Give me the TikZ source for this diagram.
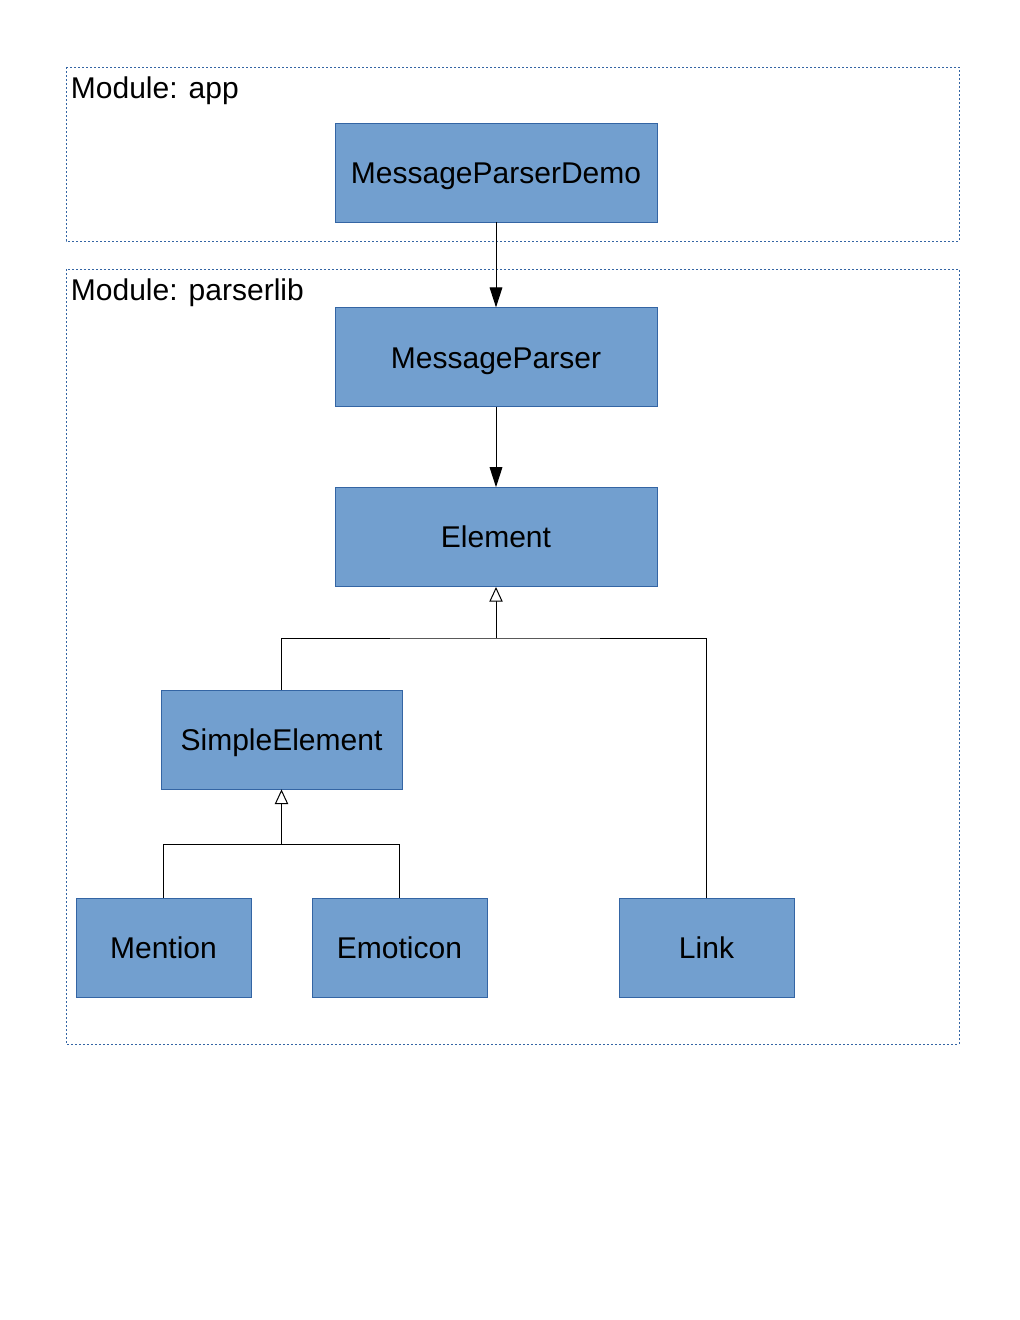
\documentclass[tikz,border=0pt]{standalone}
\usepackage{fontspec}
\setmainfont{Liberation Sans}
\usetikzlibrary{arrows.meta,positioning}
\definecolor{umlfill}{HTML}{729FCF}
\definecolor{umlline}{HTML}{3465A4}

\begin{document}
\begin{tikzpicture}[
  x=0.75pt, y=-0.75pt,
  font=\fontsize{22.5}{27}\selectfont,
  cls/.style={draw=umlline, fill=umlfill, minimum height=74.25pt,
              inner sep=0pt, line width=0.6pt, text height=16.1pt, text depth=0pt},
  wide/.style={cls, minimum width=241.5pt},
  leaf/.style={cls, minimum width=131.25pt},
  module/.style={draw=umlline, dash pattern=on 1.5pt off 1.5pt, line width=0.6pt},
  modlabel/.style={anchor=north west, inner xsep=3.5pt, inner ysep=7pt},
  uses/.style={-{Triangle[length=15pt, width=9.5pt]}, line width=0.75pt},
  extends/.style={-{Triangle[open, length=11pt, width=10pt, fill=white]}, line width=0.75pt}
]
  \useasboundingbox (0,0) rectangle (1020,1320);

  % module frames
  \draw[module] (66,67) rectangle (959,241);
  \node[modlabel] (applabel) at (66,67) {Module: app};
  \draw[module] (66,269) rectangle (959,1044);
  \node[modlabel] (liblabel) at (66,269) {Module: parserlib};

  % classes
  \node[wide] (demo) at (496,172.5) {MessageParserDemo};
  \node[wide, below=63.75pt of demo] (parser) {MessageParser};
  \node[wide, below=60pt of parser] (element) {Element};
  \node[cls, minimum width=180.75pt] (simple) at (281.5,739.5) {SimpleElement};
  \node[leaf] (mention) at (163.5,947.5) {Mention};
  \node[leaf] (emoticon) at (399.5,947.5) {Emoticon};
  \node[leaf] (link) at (706.5,947.5) {Link};

  \coordinate (forkA) at (496,638);
  \coordinate (forkB) at (281.5,844);

  \draw[uses] (demo) -- (parser);
  \draw[uses] (parser) -- (element);
  \draw[line width=0.75pt] (simple.north) |- (forkA) -| (link.north);
  \draw[extends] (forkA) -- (element);
  \draw[line width=0.75pt] (mention.north) |- (forkB) -| (emoticon.north);
  \draw[extends] (forkB) -- (simple);
\end{tikzpicture}
\end{document}
